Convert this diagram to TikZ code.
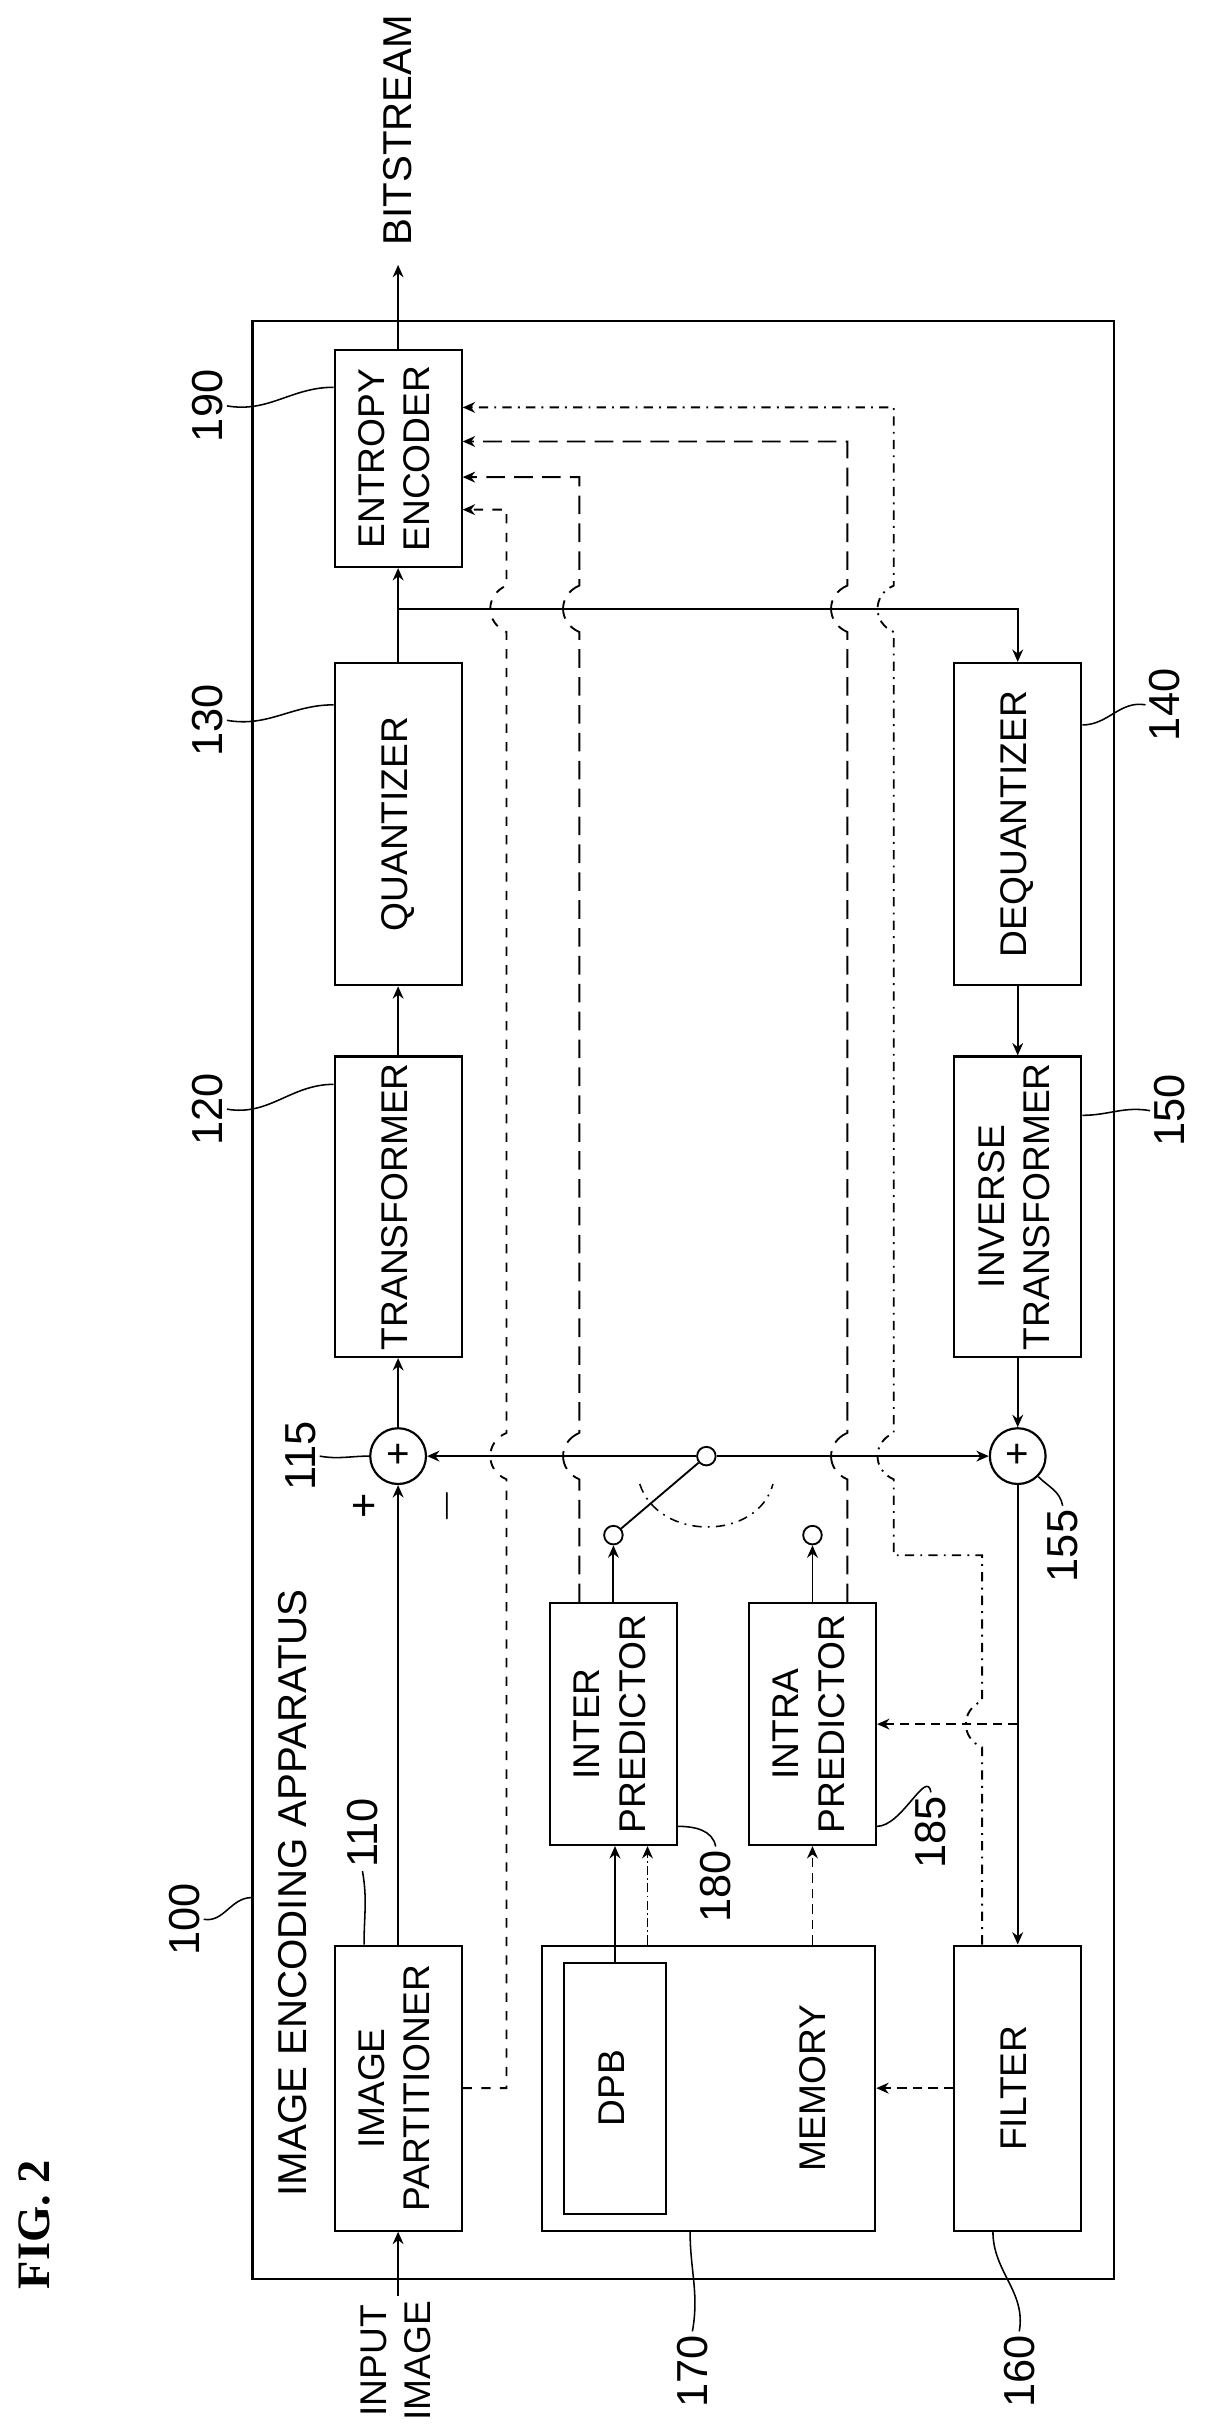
\documentclass[tikz,border=0pt]{standalone}
\usepackage{fontspec}
\setmainfont{Liberation Sans}
\newfontfamily\figfont{Liberation Serif}
\usetikzlibrary{positioning,calc,arrows.meta}

% rotated block text
\newcommand{\vtxt}[1]{\rotatebox{90}{\renewcommand{\arraystretch}{1.05}\begin{tabular}{@{}c@{}}#1\end{tabular}}}

\tikzset{
  blk/.style={draw,line width=0.7pt,minimum width=41pt,inner sep=0pt,font=\fontsize{12}{14}\selectfont},
  sum/.style={draw,circle,line width=0.7pt,minimum size=18pt,inner sep=0pt,font=\fontsize{13}{13}\selectfont},
  term/.style={draw,circle,line width=0.6pt,minimum size=6pt,inner sep=0pt},
  num/.style={rotate=90,inner sep=1pt,font=\fontsize{14}{14}\selectfont},
  lead/.style={-,line width=0.5pt},
  ldash/.style={dash pattern=on 6pt off 3pt},
  hop/.style 2 args={insert path={-- (#1,#2+15) .. controls (#1-14,#2+9) and (#1-14,#2-9) .. (#1,#2-15)}},
}

\begin{document}
\begin{tikzpicture}[x=0.5pt,y=-0.5pt,line width=0.6pt,>={Stealth[length=4pt,width=3.5pt]}]
  \useasboundingbox (0,0) rectangle (780,1570);

  % frame of the apparatus
  \node[draw,line width=0.7pt,minimum width=278pt,minimum height=632pt] (app) at (441,839) {};
  \node[rotate=90,font=\fontsize{13}{13}\selectfont] (title) at (189,1222) {IMAGE ENCODING APPARATUS};
  \node[rotate=90,font=\figfont\bfseries\fontsize{15}{15}\selectfont] (fig) at (22,1436) {FIG. 2};

  % upper row
  \node[blk,minimum height=70pt] (enc) at (257,296) {\vtxt{ENTROPY\\ENCODER}};
  \node[blk,minimum height=104pt] (quant) at (257,532) {\vtxt{QUANTIZER}};
  \node[blk,minimum height=97pt] (trans) at (257,779) {\vtxt{TRANSFORMER}};
  \node[sum] (add1) at (257,940) {+};
  \node[blk,minimum height=92pt] (part) at (257,1348) {\vtxt{IMAGE\\PARTITIONER}};

  % lower row
  \node[blk,minimum height=104pt] (dequant) at (657,532) {\vtxt{DEQUANTIZER}};
  \node[blk,minimum height=97pt] (invt) at (657,779) {\vtxt{INVERSE\\TRANSFORMER}};
  \node[sum] (add2) at (657,940) {+};
  \node[blk,minimum height=92pt] (filter) at (657,1348) {\vtxt{FILTER}};

  % memory and predictors
  \node[blk,minimum width=107.5pt,minimum height=92pt] (memory) at (457.5,1348) {};
  \node[blk,minimum width=33pt,minimum height=81pt] (dpb) at (397,1348) {\vtxt{DPB}};
  \node[font=\fontsize{12}{14}\selectfont] (memtext) at (527,1348) {\vtxt{MEMORY}};
  \node[blk,minimum height=78pt] (inter) at (396,1113) {\vtxt{INTER\\PREDICTOR}};
  \node[blk,minimum height=78pt] (intra) at (524.5,1113) {\vtxt{INTRA\\PREDICTOR}};
  \node[term] (tinter) at (396,991) {};
  \node[term] (tintra) at (524.5,991) {};
  \node[term] (pivot) at (456,940) {};

  % in and out
  \coordinate (in) at (257,1482);
  \coordinate (out) at (257,171);
  \node[rotate=90,font=\fontsize{12}{14}\selectfont] (intext) at (258,1524) {\renewcommand{\arraystretch}{1.0}\begin{tabular}{@{}c@{}}INPUT\\IMAGE\end{tabular}};
  \node[rotate=90,font=\fontsize{13}{13}\selectfont] (bits) at (257,84) {BITSTREAM};
  \node[num] (plus) at (236,972) {+};
  \node[num] (minus) at (289,972) {$-$};

  % main data path
  \draw[->] (in) -- (part);
  \draw[->] (part) -- (add1);
  \draw[->] (add1) -- (trans);
  \draw[->] (trans) -- (quant);
  \draw[->] (quant) -- (enc);
  \draw[->] (enc) -- (out);
  \coordinate (br) at (257,393);
  \draw[->] (br) -| (dequant);
  \draw[->] (dequant) -- (invt);
  \draw[->] (invt) -- (add2);
  \draw[->] (add2) -- (filter);
  \coordinate (fb) at (657,1113);
  \draw[densely dashed,->] (fb) -- (intra);
  \draw[densely dashed,->] (filter) -- (memory);
  \draw[->] (dpb.north) -- (dpb.north |- inter.south);
  \draw[densely dash dot,->] ([xshift=11pt]inter.south |- memory.north) -- ([xshift=11pt]inter.south);
  \draw[densely dashed,->] (intra.south |- memory.north) -- (intra.south);
  \draw[->] (inter) -- (tinter);
  \draw[->] (intra) -- (tintra);

  % prediction switch
  \draw (tinter) -- (pivot);
  \draw[->] (pivot) -- (add1);
  \draw[->] (pivot) -- (add2);
  \draw[dash dot,line width=0.5pt] (413,958) .. controls (425,995) and (489,995) .. (499,958);

  % side information to the entropy encoder
  \draw[dashed,->] (part.east) -- (327,1348) [hop={327}{940}] [hop={327}{393}] -- (327,329) -- ([yshift=-16.5pt]enc.east);
  \draw[ldash,->] ([xshift=-11pt]inter.north) [hop={374}{940}] [hop={374}{393}] -- (374,308) -- ([yshift=-6pt]enc.east);
  \draw[ldash,->] ([xshift=11.25pt]intra.north) [hop={547}{940}] [hop={547}{393}] -- (547,285) -- ([yshift=5.5pt]enc.east);
  \draw[dash dot,->] ([xshift=-11.5pt]filter.north) [hop={634}{1113}] -- (634,1004) -- (577,1004) [hop={577}{940}] [hop={577}{393}] -- (577,263) -- ([yshift=16.5pt]enc.east);

  % reference numerals
  \node[num] (l190) at (134,262) {190};
  \node[num] (l130) at (134,465) {130};
  \node[num] (l120) at (134,716) {120};
  \node[num] (l115) at (194,940) {115};
  \node[num] (l140) at (752,455) {140};
  \node[num] (l150) at (755,717) {150};
  \node[num] (l155) at (686,998) {155};
  \node[num] (l180) at (462,1218) {180};
  \node[num] (l185) at (601,1183) {185};
  \node[num] (l100) at (119,1239) {100};
  \node[num] (l110) at (234,1183) {110};
  \node[num] (l170) at (447,1531) {170};
  \node[num] (l160) at (658,1531) {160};

  \draw[lead] (l190.south) to[out=-10,in=180] ([yshift=23pt]enc.west);
  \draw[lead] (l130.south) to[out=-10,in=180] ([yshift=38.5pt]quant.west);
  \draw[lead] (l120.south) to[out=-10,in=180] ([yshift=39.5pt]trans.west);
  \draw[lead] (l115.south) to[out=-10,in=180] (add1.west);
  \draw[lead] (l140.north) to[out=170,in=0] ([yshift=32pt]dequant.east);
  \draw[lead] (l150.north) to[out=170,in=0] ([yshift=29.5pt]invt.east);
  \draw[lead] (l155.east) to[out=100,in=-45] (add2.south east);
  \draw[lead] (l180.east) to[out=100,in=0] ([yshift=-33pt]inter.east);
  \draw[lead] (l185.east) to[out=100,in=0] ([yshift=-33pt]intra.east);
  \draw[lead] (l100.south) to[out=-10,in=180] ([yshift=-193pt]app.west);
  \draw[lead] (l110.west) to[out=-80,in=90] ([xshift=-11pt]part.north);
  \draw[lead] (l170.east) to[out=80,in=-90] ([xshift=-6pt]memory.south);
  \draw[lead] (l160.east) to[out=80,in=-90] ([xshift=-8pt]filter.south);
\end{tikzpicture}
\end{document}
